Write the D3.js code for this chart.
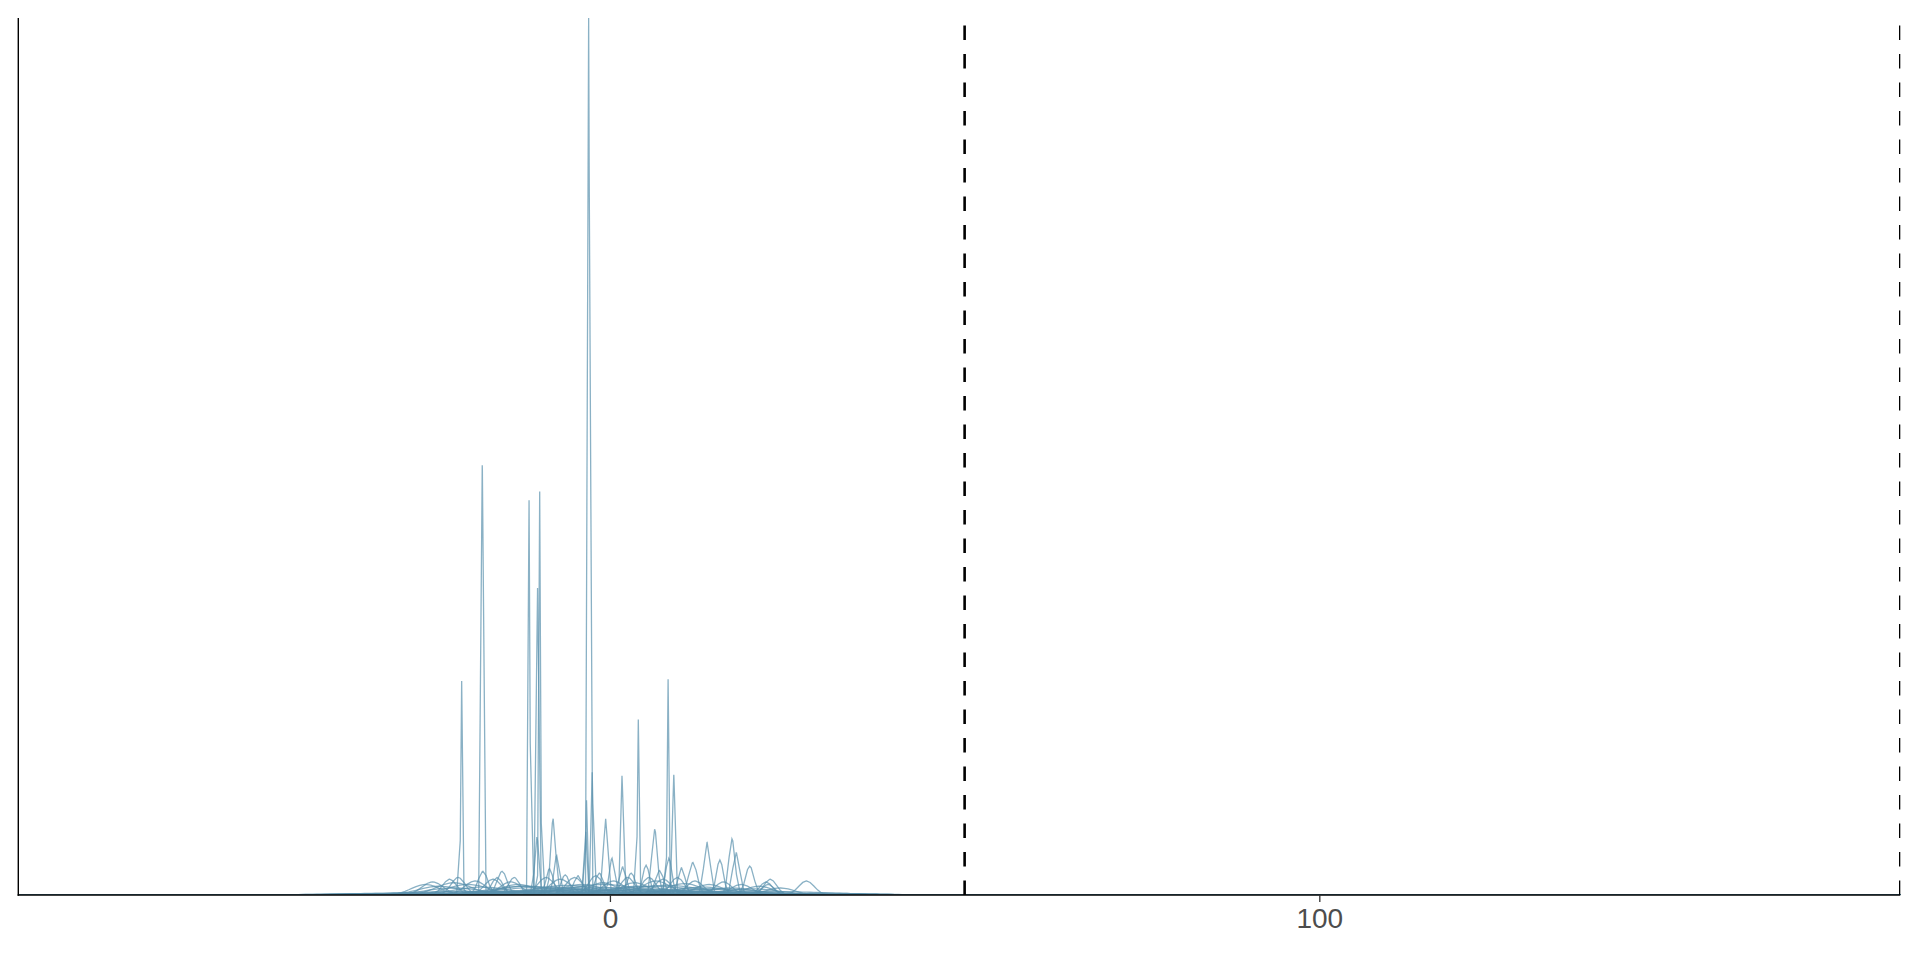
<!DOCTYPE html>
<html>
<head>
<meta charset="utf-8">
<script src="https://cdn.jsdelivr.net/npm/d3@7"></script>
<style>
  html, body { margin: 0; padding: 0; background: #ffffff; }
  svg { display: block; }
</style>
</head>
<body>
<svg id="chart" width="1920" height="960"></svg>
<script>
// ---- data ----
// each density curve: mode position (x), displayed peak height (relative to the tallest), spread (x units)
const modeX = [
  -3.0, -18.0, -11.4, -9.9, -10.2, -20.9, 8.2, 4.0, 1.7, 9.0, -2.5, -3.3, -3.4, -10.3,
  -8.0, -7.5, -0.6, 0.3, 6.3, 5.1, 8.3, 10.1, 11.7, 13.7, 15.5, 17.2, 17.8, 19.7,
  22.0, 22.6, 22.3, 27.7, -25.0, -22.6, -21.4, -17.9, -15.2, -15.9, -8.5, -6.3, 1.8,
  3.0, 7.0, -4.5, -1.5, -13.5,
  -26.0, -24.0, -22.0, -20.0, -19.0, -16.5, -14.0, -13.0, -12.0, -9.0, -7.0, -5.0, -4.0,
  -2.0, -1.0, 0.5, 2.5, 3.5, 5.5, 6.5, 7.5, 9.5, 10.5, 12.0, 14.0, 16.0, 18.5, 21.0, 24.0,
  -5.0, 0.0, 5.0, -10.0, 10.0, -15.0, -30.0, 30.0, 2.0, -8.0, 12.0,
  -18.0, -12.0, -6.0, -1.0, 4.0, 8.0, 13.0, 17.0, 20.0, -22.0, -3.0, 6.0, 1.0, -9.0, 15.0,
  -35.0, 34.0, -20.0, 22.0, 0.0
];
const modeHeight = [
  1.000, 0.490, 0.450, 0.460, 0.350, 0.244, 0.246, 0.200, 0.136, 0.137, 0.140, 0.108, 0.072, 0.066,
  0.087, 0.045, 0.087, 0.042, 0.075, 0.034, 0.042, 0.031, 0.037, 0.060, 0.040, 0.064, 0.048, 0.033,
  0.015, 0.018, 0.012, 0.016, 0.015, 0.018, 0.020, 0.027, 0.027, 0.020, 0.030, 0.023, 0.032,
  0.025, 0.028, 0.022, 0.025, 0.020,
  0.012, 0.010, 0.014, 0.012, 0.016, 0.018, 0.015, 0.012, 0.010, 0.020, 0.018, 0.020, 0.012,
  0.022, 0.014, 0.016, 0.020, 0.014, 0.020, 0.016, 0.018, 0.020, 0.013, 0.016, 0.012, 0.015, 0.012, 0.010, 0.008,
  0.006, 0.005, 0.006, 0.005, 0.004, 0.004, 0.002, 0.002, 0.003, 0.008, 0.007,
  0.009, 0.010, 0.011, 0.012, 0.010, 0.011, 0.009, 0.008, 0.007, 0.008, 0.009, 0.010, 0.008, 0.009, 0.007,
  0.0015, 0.0015, 0.004, 0.004, 0.006
];
const modeSpread = [
  0.12, 0.12, 0.12, 0.12, 0.12, 0.12, 0.12, 0.12, 0.12, 0.12, 0.12, 0.12, 0.12, 0.30,
  0.35, 0.40, 0.30, 0.40, 0.40, 0.50, 0.45, 0.50, 0.60, 0.45, 0.50, 0.45, 0.50, 0.60,
  0.90, 0.90, 0.90, 1.10, 1.50, 1.00, 1.00, 0.70, 0.70, 0.80, 0.50, 0.60, 0.50,
  0.60, 0.60, 0.60, 0.60, 0.80,
  2.0, 3.0, 2.5, 3.0, 1.5, 1.2, 1.5, 2.5, 4.0, 1.2, 1.5, 1.2, 3.0,
  1.0, 2.0, 1.5, 1.0, 2.0, 1.0, 2.0, 1.2, 1.0, 2.5, 1.2, 2.0, 1.2, 1.5, 2.0, 2.0,
  8.0, 10.0, 8.0, 9.0, 12.0, 12.0, 8.0, 6.0, 15.0, 5.0, 6.0,
  4.0, 5.0, 4.5, 5.0, 4.0, 5.0, 4.0, 3.5, 4.0, 4.0, 7.0, 6.0, 9.0, 7.0, 6.0,
  6.0, 5.0, 10.0, 9.0, 14.0
];
const xTickValues = [0, 100];
const xTickLabels = ["0", "100"];
const refLines = [50, 181.9];
const xDomain = [-83.4, 181.9];

// ---- layout ----
const panelLeft = 18.3, panelRight = 1900.3, panelTop = 18, panelBottom = 895;
const svg = d3.select("#chart");

const x = d3.scaleLinear().domain(xDomain).range([panelLeft, panelRight]);
const y = d3.scaleLinear().domain([0, d3.max(modeHeight)]).range([panelBottom, panelTop]);

svg.append("defs").append("clipPath").attr("id", "panel")
  .append("rect").attr("x", panelLeft).attr("y", panelTop - 1)
  .attr("width", panelRight - panelLeft).attr("height", panelBottom - panelTop + 1);

// evaluation grid, like a density estimate on 512 points over the scale range
const nGrid = 512;
const grid = d3.range(nGrid).map(i => xDomain[0] + i * (xDomain[1] - xDomain[0]) / (nGrid - 1));

const curves = modeX.map((c, i) => {
  const h = modeHeight[i], s = modeSpread[i];
  const xs = grid.concat([c]).sort((a, b) => a - b);
  return xs.map(v => [v, h * Math.exp(-0.5 * ((v - c) / s) * ((v - c) / s))]);
});

const line = d3.line().x(d => x(d[0])).y(d => y(d[1]));

const g = svg.append("g").attr("clip-path", "url(#panel)");
g.selectAll("path.dens").data(curves).enter().append("path")
  .attr("class", "dens")
  .attr("d", line)
  .attr("fill", "none")
  .attr("stroke", "#5990ad")
  .attr("stroke-opacity", 0.7)
  .attr("stroke-width", 1.3);

// dashed reference lines (drawn from bottom to top)
g.selectAll("line.ref").data(refLines).enter().append("line")
  .attr("class", "ref")
  .attr("x1", d => x(d)).attr("x2", d => x(d))
  .attr("y1", panelBottom).attr("y2", panelTop)
  .attr("stroke", "#000")
  .attr("stroke-width", 2.6)
  .attr("stroke-dasharray", "14.5,14");

// axes
const xAxis = d3.axisBottom(x).tickValues(xTickValues).tickFormat((d, i) => xTickLabels[i])
  .tickSizeInner(7).tickSizeOuter(0).tickPadding(6);
const ax = svg.append("g").attr("transform", `translate(0,${panelBottom})`).call(xAxis);
ax.select(".domain").attr("stroke", "#000").attr("stroke-width", 1.4)
  .attr("d", `M${panelLeft - 0.7},0H${panelRight}`);
ax.selectAll(".tick line").attr("stroke", "#333").attr("stroke-width", 1.3);
ax.selectAll(".tick text")
  .attr("fill", "#4d4d4d")
  .attr("font-family", "'Liberation Sans', Arial, sans-serif")
  .attr("font-size", 28);

svg.append("line")
  .attr("x1", panelLeft).attr("x2", panelLeft).attr("y1", panelTop).attr("y2", panelBottom + 0.7)
  .attr("stroke", "#000").attr("stroke-width", 1.4);
</script>
</body>
</html>
